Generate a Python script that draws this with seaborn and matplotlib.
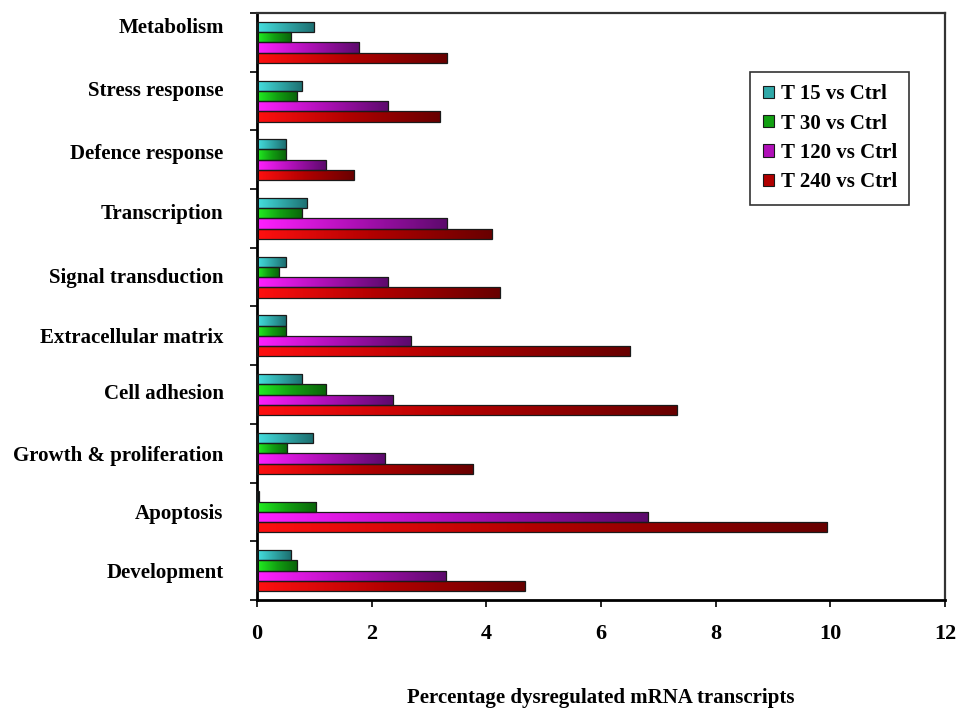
import numpy as np
import pandas as pd
import matplotlib
matplotlib.use("Agg")
import matplotlib.pyplot as plt
import matplotlib.transforms as mtransforms
import seaborn as sns
from matplotlib.colors import LinearSegmentedColormap
from matplotlib.patches import Patch

categories = ["Metabolism", "Stress response", "Defence response", "Transcription",
              "Signal transduction", "Extracellular matrix", "Cell adhesion",
              "Growth & proliferation", "Apoptosis", "Development"]
series = ["T 15 vs Ctrl", "T 30 vs Ctrl", "T 120 vs Ctrl", "T 240 vs Ctrl"]
t15 = [1.00, 0.79, 0.50, 0.88, 0.50, 0.50, 0.79, 0.97, 0.03, 0.59]
t30 = [0.59, 0.69, 0.50, 0.79, 0.38, 0.50, 1.20, 0.53, 1.03, 0.69]
t120 = [1.78, 2.29, 1.20, 3.32, 2.29, 2.68, 2.38, 2.24, 6.82, 3.30]
t240 = [3.32, 3.20, 1.70, 4.10, 4.23, 6.51, 7.32, 3.77, 9.95, 4.67]
x_ticks = [0, 2, 4, 6, 8, 10, 12]

base_colors = ["#30A8A8", "#12A012", "#B010B8", "#B00000"]
light_colors = ["#45E0E0", "#22F022", "#FF20FF", "#FF1010"]
dark_colors = ["#1C6E70", "#0A640A", "#5C0A6C", "#680000"]

# layout-only vertical nudges (points, upward) for the category labels
label_nudge = [12, 9, 6, 5, 1.5, 0.5, 2, -0.5, 0, 0]

sns.set_theme(style="white")
plt.rcParams["font.family"] = ["Liberation Serif", "DejaVu Serif"]
plt.rcParams["font.weight"] = "bold"
for key in ["text.color", "axes.labelcolor", "xtick.color", "ytick.color"]:
    plt.rcParams[key] = "black"

df = pd.DataFrame({
    "category": categories * 4,
    "series": [s for s in series for _ in categories],
    "value": t15 + t30 + t120 + t240,
})

fig = plt.figure(figsize=(9.66, 7.10), dpi=100)
ax = fig.add_axes([257 / 966, 1 - 600 / 710, (945 - 257) / 966, (600 - 13) / 710])

sns.barplot(data=df, y="category", x="value", hue="series", orient="h",
            order=categories, hue_order=series, palette=base_colors,
            width=0.70, gap=0, edgecolor="#1a1a1a", linewidth=0.9,
            legend=False, ax=ax)

# gradient shading clipped to each bar
for ci, cont in enumerate(ax.containers):
    cmap = LinearSegmentedColormap.from_list(f"g{ci}", [light_colors[ci], base_colors[ci], dark_colors[ci]])
    grad = np.linspace(0, 1, 256).reshape(1, -1)
    for p in cont.patches:
        x0, y0, w, h = p.get_x(), p.get_y(), p.get_width(), p.get_height()
        if w <= 0:
            continue
        im = ax.imshow(grad, cmap=cmap, extent=[x0, x0 + w, y0 + h, y0],
                       aspect="auto", zorder=2, interpolation="bilinear")
        im.set_clip_path(p)
        p.set_facecolor("none")
        p.set_zorder(3)

ax.set_xlim(0, 12)
ax.set_ylim(len(categories) - 0.5, -0.5)
ax.set_aspect("auto")

ax.set_xticks(x_ticks)
ax.set_xticklabels([str(t) for t in x_ticks], fontsize=16, fontweight="bold", color="black")
ax.set_yticks(range(len(categories)))
ax.set_yticklabels(categories, fontsize=15, fontweight="bold", color="black")
ax.set_yticks(np.arange(-0.5, len(categories), 1.0), minor=True)
ax.tick_params(axis="y", which="major", length=0, pad=24)
ax.tick_params(axis="y", which="minor", length=5, width=1.2, direction="out", color="black", left=True)
ax.tick_params(axis="x", which="major", length=5, width=1.2, direction="out", color="black", bottom=True, pad=12)

for lab, dy in zip(ax.get_yticklabels(), label_nudge):
    lab.set_transform(lab.get_transform() + mtransforms.ScaledTranslation(0, dy / 72, fig.dpi_scale_trans))

ax.set_xlabel("Percentage dysregulated mRNA transcripts", fontsize=15, fontweight="bold",
              labelpad=32, color="black")
ax.set_ylabel("")

for side in ["left", "bottom"]:
    ax.spines[side].set_color("black")
    ax.spines[side].set_linewidth(2.0)
for side in ["top", "right"]:
    ax.spines[side].set_color("#333333")
    ax.spines[side].set_linewidth(1.6)

handles = [Patch(facecolor=base_colors[i], edgecolor="#1a1a1a", linewidth=0.8) for i in range(4)]
leg = ax.legend(handles, series, loc="upper left", bbox_to_anchor=(0.717, 0.90),
                fancybox=False, frameon=True, edgecolor="black", fontsize=15,
                handlelength=0.55, handleheight=0.55, handletextpad=0.3,
                labelspacing=0.45, borderpad=0.6, borderaxespad=0)
leg.get_frame().set_linewidth(1.2)
for t in leg.get_texts():
    t.set_fontweight("bold")
    t.set_color("black")

fig.savefig("out.png", dpi=100)
